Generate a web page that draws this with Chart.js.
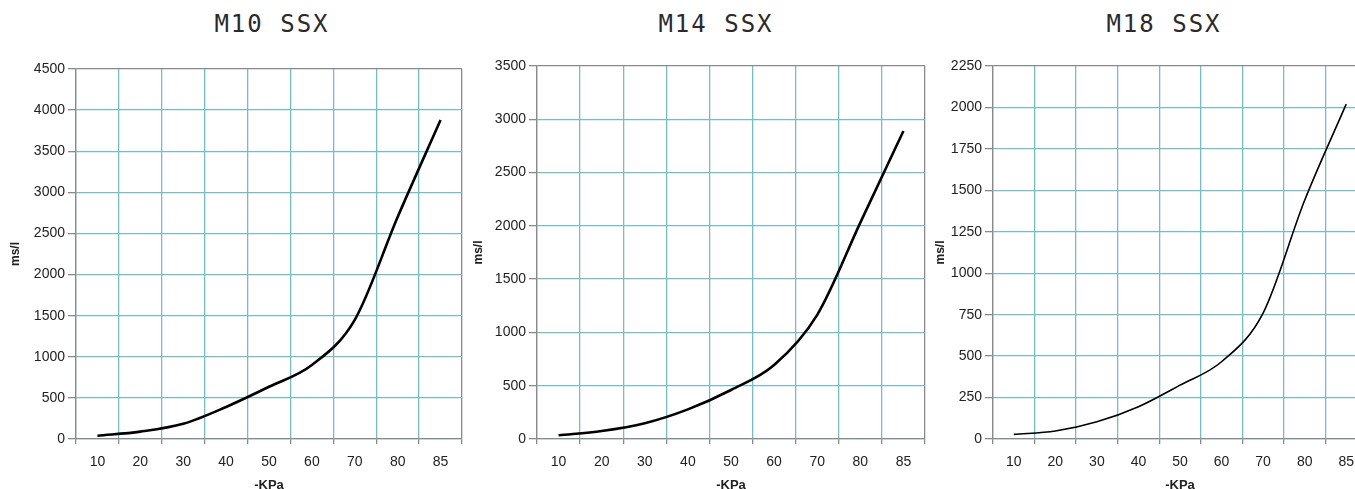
<!DOCTYPE html>
<html lang="en">
<head>
    <meta charset="UTF-8">
    <title>SSX - ms/l vs -KPa</title>
    <script src="https://cdn.jsdelivr.net/npm/chart.js"></script>
    <style>
        html, body { margin: 0; padding: 0; background: #fff; overflow: hidden; }
        body { width: 1355px; height: 489px; position: relative; }
        .title {
            position: absolute; top: 10px; width: 300px; text-align: center;
            font-family: "DejaVu Sans Mono", monospace; font-size: 24px;
            letter-spacing: 2px; color: #2a2a2a; white-space: pre;
        }
        .box { position: absolute; top: 0; height: 510px; }
    </style>
</head>
<body>
    <div class="title" style="left: 122px;">M10 SSX</div>
    <div class="title" style="left: 566px;">M14 SSX</div>
    <div class="title" style="left: 1014px;">M18 SSX</div>

    <div class="box" style="left: 0px; width: 470px;"><canvas id="m10"></canvas></div>
    <div class="box" style="left: 463px; width: 470px;"><canvas id="m14"></canvas></div>
    <div class="box" style="left: 925px; width: 450px;"><canvas id="m18"></canvas></div>

    <script>
        const kpa = ['10', '20', '30', '40', '50', '60', '70', '80', '85'];

        const m10Values = [40, 90, 185, 390, 635, 900, 1450, 2700, 3880];
        const m14Values = [35, 75, 148, 278, 460, 694, 1165, 2030, 2890];
        const m18Values = [28, 48, 104, 195, 325, 466, 760, 1440, 2020];

        const m10Ticks = { max: 4500, step: 500 };
        const m14Ticks = { max: 3500, step: 500 };
        const m18Ticks = { max: 2250, step: 250 };

        const GRID = '#78bcc8';
        const BORDER = '#8a8a8a';
        const TEXT = '#222';

        function makeChart(id, values, ticks, opts) {
            const ctx = document.getElementById(id).getContext('2d');
            return new Chart(ctx, {
                type: 'line',
                data: {
                    labels: kpa,
                    datasets: [{
                        data: values,
                        borderColor: '#000',
                        borderWidth: opts.lineWidth,
                        pointRadius: 0,
                        cubicInterpolationMode: 'monotone',
                        fill: false
                    }]
                },
                options: {
                    responsive: true,
                    maintainAspectRatio: false,
                    animation: false,
                    layout: { padding: { top: opts.top, right: 8, bottom: 0, left: 0 } },
                    plugins: { legend: { display: false }, tooltip: { enabled: false } },
                    scales: {
                        x: {
                            type: 'category',
                            offset: true,
                            afterFit: (s) => { s.height = 71; },
                            grid: {
                                offset: true,
                                color: (c) => c.tick ? GRID : BORDER,
                                lineWidth: 1.3,
                                tickColor: BORDER,
                                tickLength: 5
                            },
                            border: { color: BORDER, width: 1.3 },
                            ticks: {
                                color: TEXT,
                                padding: 10,
                                maxRotation: 0,
                                autoSkip: false,
                                font: { family: 'Liberation Sans, Arial, sans-serif', size: 14 }
                            },
                            title: {
                                display: true,
                                text: '-KPa',
                                color: TEXT,
                                padding: { top: 4, bottom: 17 },
                                font: { family: 'Liberation Sans, Arial, sans-serif', size: 13, weight: 'bold' }
                            }
                        },
                        y: {
                            min: 0,
                            max: ticks.max,
                            afterFit: (s) => { s.width = opts.yWidth; },
                            grid: {
                                color: (c) => (c.tick && c.tick.value === ticks.max) ? BORDER : GRID,
                                lineWidth: 1.3,
                                tickColor: BORDER,
                                tickLength: 8
                            },
                            border: { color: BORDER, width: 1.3 },
                            ticks: {
                                stepSize: ticks.step,
                                color: TEXT,
                                padding: 3,
                                callback: (v) => String(v),
                                font: { family: 'Liberation Sans, Arial, sans-serif', size: 14 }
                            },
                            title: {
                                display: true,
                                text: 'ms/l',
                                color: TEXT,
                                padding: { top: 8, bottom: 4 },
                                font: { family: 'Liberation Sans, Arial, sans-serif', size: 12, weight: 'bold' }
                            }
                        }
                    }
                }
            });
        }

        makeChart('m10', m10Values, m10Ticks, { top: 69, yWidth: 76, lineWidth: 2.6 });
        makeChart('m14', m14Values, m14Ticks, { top: 66, yWidth: 74, lineWidth: 2.6 });
        makeChart('m18', m18Values, m18Ticks, { top: 66, yWidth: 68, lineWidth: 1.6 });
    </script>
</body>
</html>
